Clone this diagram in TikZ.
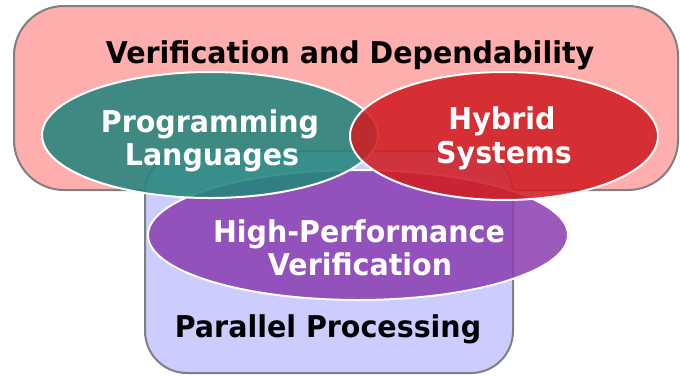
\documentclass[tikz,border=0pt]{standalone}
\usepackage{fontspec}
\setmainfont{DejaVu Sans}
\usetikzlibrary{shapes.geometric}
\definecolor{pinkbg}{RGB}{255,174,174}
\definecolor{lavbg}{RGB}{204,204,255}
\definecolor{tealc}{RGB}{36,134,124}
\definecolor{redc}{RGB}{208,30,36}
\definecolor{purc}{RGB}{140,66,178}
\definecolor{edgegray}{RGB}{128,128,128}
\newcommand{\nx}[1]{\scalebox{0.95}[1]{#1}}
\tikzset{
  area/.style={draw=edgegray, line width=2pt, rectangle, inner sep=0pt},
  blob/.style={ellipse, draw=white, line width=2pt, fill opacity=0.88, inner sep=0pt},
  darktxt/.style={anchor=base, font=\fontsize{30}{32}\selectfont\bfseries, text=black, inner sep=0pt},
  lighttxt/.style={anchor=base, font=\fontsize{30}{32}\selectfont\bfseries, text=white, inner sep=0pt},
}
\begin{document}
\begin{tikzpicture}[x=1pt,y=-1pt]
\useasboundingbox (0,0) rectangle (680,376);
% background areas
\node[area, fill=pinkbg, rounded corners=50pt, minimum width=664pt, minimum height=184pt] (vd) at (346,98) {};
\node[area, fill=lavbg, rounded corners=42pt, minimum width=368pt, minimum height=222pt] (pp) at (329,262) {};
% ellipses
\node[blob, fill=purc, minimum width=420pt, minimum height=130pt] (hpv) at (358,235) {};
\node[blob, fill=tealc, minimum width=336pt, minimum height=126pt] (plg) at (210,135) {};
\node[blob, fill=redc, minimum width=308pt, minimum height=128pt] (hsy) at (504,136) {};
% texts
\node[darktxt] (tvd) at (350,63) {\nx{Verification and Dependability}};
\node[lighttxt] (tpl1) at (210,132) {\nx{Programming}};
\node[lighttxt] (tpl2) at (212,165) {\nx{Languages}};
\node[lighttxt] (ths1) at (502,129) {\nx{Hybrid}};
\node[lighttxt] (ths2) at (504,163) {\nx{Systems}};
\node[lighttxt] (thp1) at (359,242) {\nx{High-Performance}};
\node[lighttxt] (thp2) at (360,275) {\nx{Verification}};
\node[darktxt] (tpp) at (328,337) {\nx{Parallel Processing}};
\end{tikzpicture}
\end{document}
